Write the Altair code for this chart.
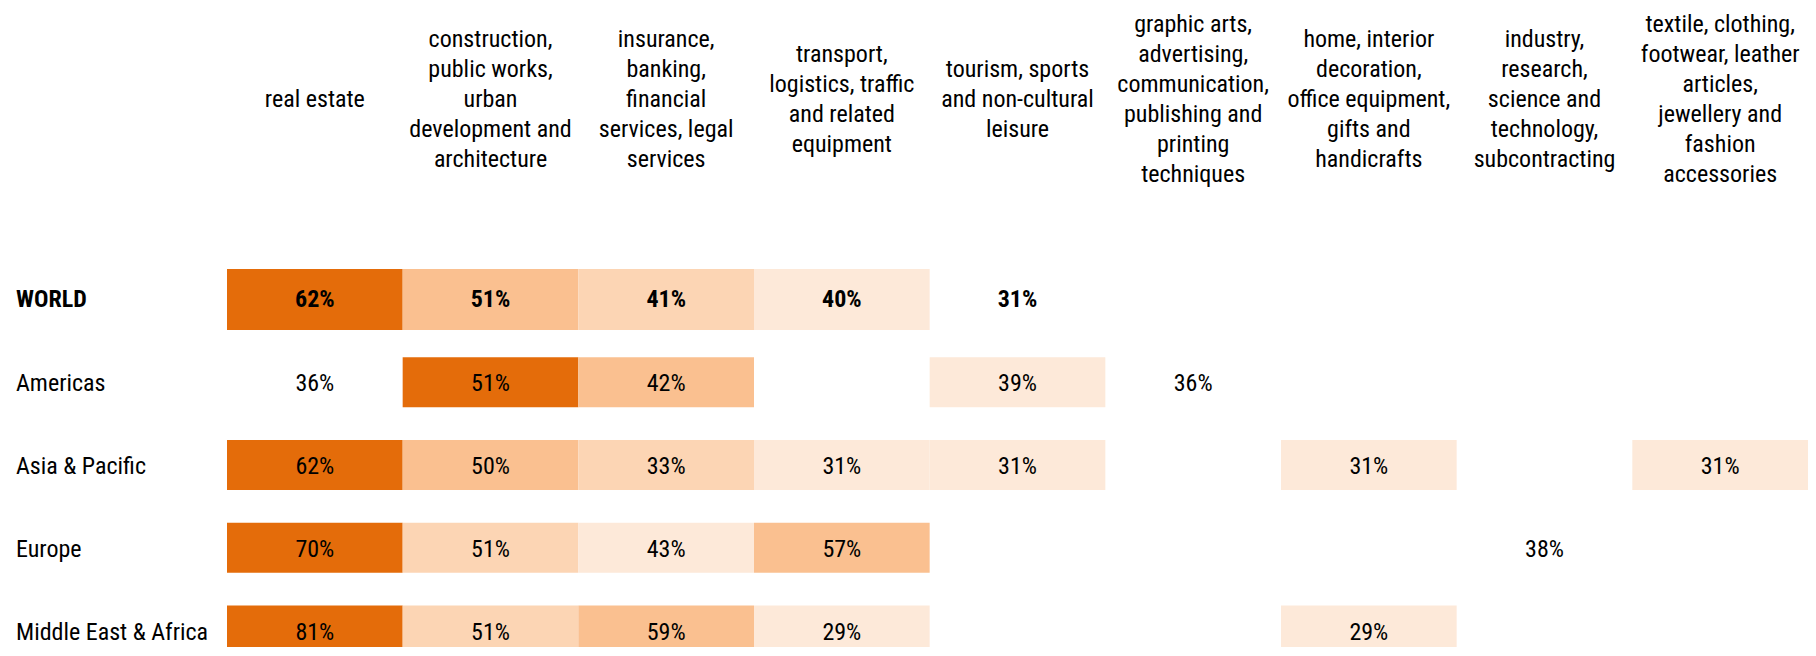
import altair as alt
import pandas as pd

# ---- data ----
headers = [
    "real estate",
    "construction,\npublic works,\nurban\ndevelopment and\narchitecture",
    "insurance,\nbanking,\nfinancial\nservices, legal\nservices",
    "transport,\nlogistics, traffic\nand related\nequipment",
    "tourism, sports\nand non-cultural\nleisure",
    "graphic arts,\nadvertising,\ncommunication,\npublishing and\nprinting\ntechniques",
    "home, interior\ndecoration,\noffice equipment,\ngifts and\nhandicrafts",
    "industry,\nresearch,\nscience and\ntechnology,\nsubcontracting",
    "textile, clothing,\nfootwear, leather\narticles,\njewellery and\nfashion\naccessories",
]
sectors = [h.replace("\n", " ") for h in headers]

regions = ["WORLD", "Americas", "Asia & Pacific", "Europe", "Middle East & Africa"]

world_values = [62, 51, 41, 40, 31, None, None, None, None]
americas_values = [36, 51, 42, None, 39, 36, None, None, None]
asia_values = [62, 50, 33, 31, 31, None, 31, None, 31]
europe_values = [70, 51, 43, 57, None, None, None, 38, None]
mea_values = [81, 51, 59, 29, None, None, 29, None, None]

# shade level of each cell (0 = no fill, 4 = darkest)
world_shades = [4, 3, 2, 1, 0, 0, 0, 0, 0]
americas_shades = [0, 4, 3, 0, 1, 0, 0, 0, 0]
asia_shades = [4, 3, 2, 1, 1, 0, 1, 0, 1]
europe_shades = [4, 2, 1, 3, 0, 0, 0, 0, 0]
mea_shades = [4, 2, 3, 1, 0, 0, 1, 0, 0]

shade_levels = [1, 2, 3, 4]
shade_colors = ["#FDE9D9", "#FCD5B4", "#FAC090", "#E46C0A"]

FONT = "Liberation Sans Narrow, Arial Narrow, Roboto Condensed, DejaVu Sans Condensed, sans-serif"
LINE_H = 30

# ---- tables ----
rows = []
for reg, vals, shades in zip(
    regions,
    [world_values, americas_values, asia_values, europe_values, mea_values],
    [world_shades, americas_shades, asia_shades, europe_shades, mea_shades],
):
    for sec, v, s in zip(sectors, vals, shades):
        if v is None:
            continue
        rows.append({"region": reg, "sector": sec, "value": v, "label": f"{v}%", "shade": s})
cells = pd.DataFrame(rows)
reg_df = pd.DataFrame({"region": regions})
head_df = pd.DataFrame({"sector": sectors, "header": headers,
                        "nlines": [h.count("\n") + 1 for h in headers]})

x_enc = alt.X("sector:N", scale=alt.Scale(domain=sectors, paddingInner=0, paddingOuter=0), axis=None)
y_enc = alt.Y("region:N", scale=alt.Scale(domain=regions, range=[0, 414], paddingInner=0, paddingOuter=0), axis=None)
c_enc = alt.Color("shade:O", scale=alt.Scale(domain=shade_levels, range=shade_colors), legend=None)

base = alt.Chart(cells)

rect_other = base.transform_filter("datum.shade > 0 && datum.region != 'WORLD'").mark_rect(height=50).encode(
    x=x_enc, y=y_enc, color=c_enc)
rect_world = base.transform_filter("datum.shade > 0 && datum.region == 'WORLD'").mark_rect(height=61).encode(
    x=x_enc, y=y_enc, color=c_enc)

txt_other = base.transform_filter("datum.region != 'WORLD'").mark_text(
    font=FONT, fontSize=24, color="#000000", baseline="middle", dy=2).encode(x=x_enc, y=y_enc, text="label:N")
txt_world = base.transform_filter("datum.region == 'WORLD'").mark_text(
    font=FONT, fontSize=24, fontWeight="bold", color="#000000", baseline="middle", dy=1).encode(x=x_enc, y=y_enc, text="label:N")

reg_other = alt.Chart(reg_df).transform_filter("datum.region != 'WORLD'").mark_text(
    font=FONT, fontSize=24, color="#000000", align="left", baseline="middle", dy=2).encode(
    x=alt.value(-211), y=y_enc, text="region:N")
reg_world = alt.Chart(reg_df).transform_filter("datum.region == 'WORLD'").mark_text(
    font=FONT, fontSize=24, fontWeight="bold", color="#000000", align="left", baseline="middle", dy=1).encode(
    x=alt.value(-211), y=y_enc, text="region:N")

# header blocks, vertically centred on one line whatever their number of lines
head_layers = []
for n in sorted(set(head_df["nlines"])):
    head_layers.append(
        alt.Chart(head_df).transform_filter(f"datum.nlines == {n}").mark_text(
            font=FONT, fontSize=24, color="#000000", align="center", baseline="middle",
            lineBreak="\n", lineHeight=LINE_H, dy=-(n - 1) * LINE_H / 2).encode(
            x=x_enc, y=alt.value(-158), text="header:N")
    )

chart = alt.layer(rect_other, rect_world, txt_other, txt_world, reg_other, reg_world, *head_layers).properties(
    width=1581, height=389,
    padding={"left": 219, "top": 250, "right": 0, "bottom": 0},
    autosize=alt.AutoSizeParams(type="none"),
).configure_view(stroke=None)

chart.save("out.html", embed_options={"renderer": "svg", "actions": False})
